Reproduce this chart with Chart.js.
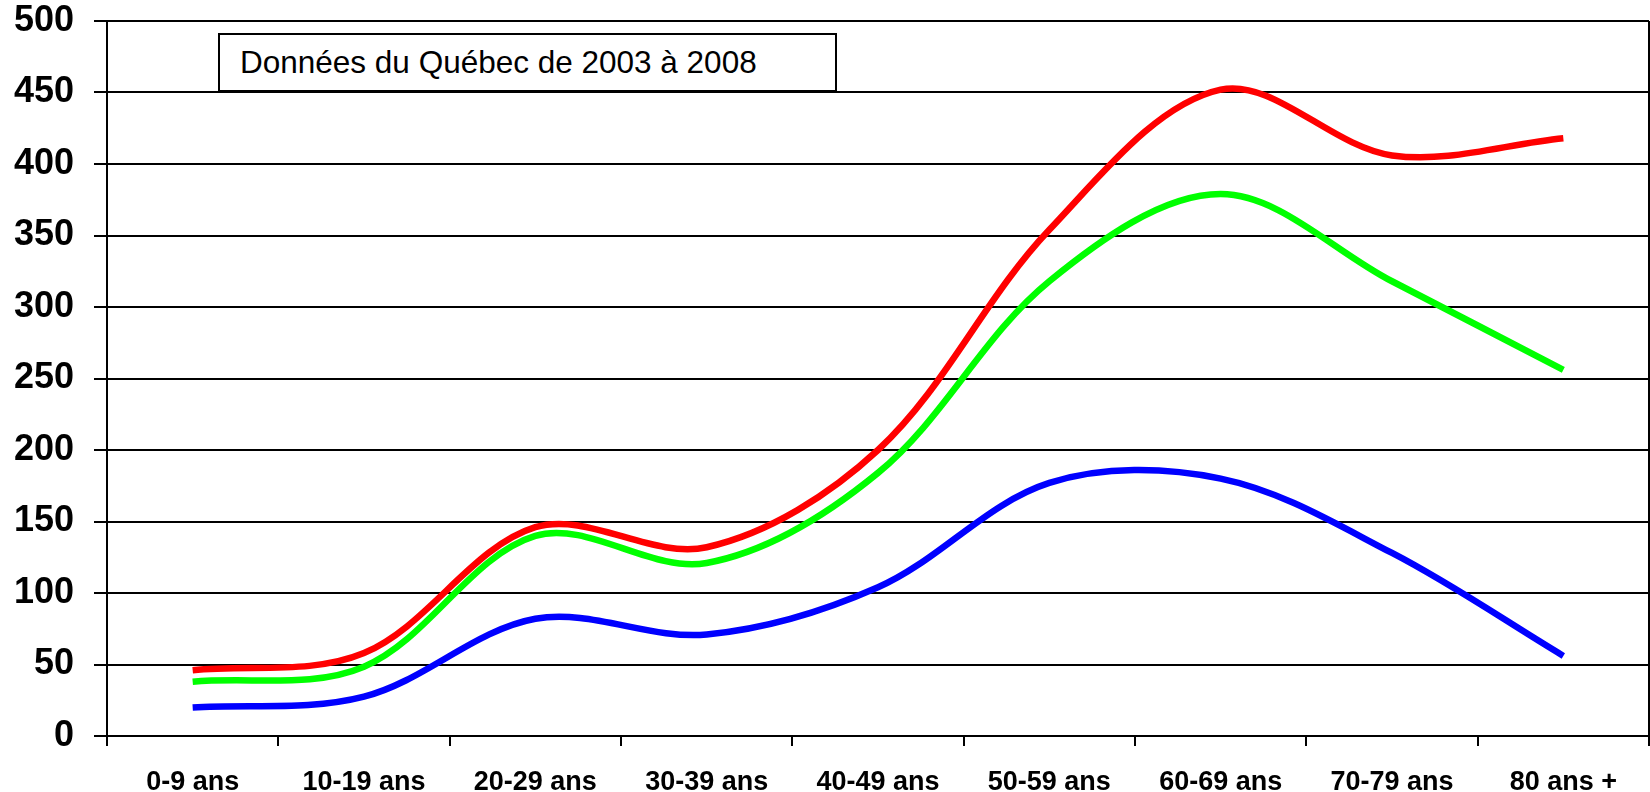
<!DOCTYPE html>
<html>
<head>
<meta charset="utf-8">
<script src="https://cdn.jsdelivr.net/npm/chart.js@4/dist/chart.umd.min.js"></script>
<style>
  html, body { margin: 0; padding: 0; background: #ffffff; }
  #wrap { position: relative; width: 1650px; height: 792px; }
  #c { display: block; }
  #note {
    position: absolute; left: 218px; top: 33px; width: 619px; height: 59px;
    box-sizing: border-box; border: 2px solid #000; background: #fff;
    font: 31.5px "Liberation Sans", Arial, sans-serif; color: #000;
    padding-left: 20px; line-height: 55px; white-space: nowrap;
  }
</style>
</head>
<body>
<div id="wrap">
  <canvas id="c" width="1650" height="792"></canvas>
  <div id="note">Données du Québec de 2003 à 2008</div>
</div>
<script>
// ---- data ----
const categories = ['0-9 ans', '10-19 ans', '20-29 ans', '30-39 ans', '40-49 ans',
                    '50-59 ans', '60-69 ans', '70-79 ans', '80 ans +'];
const redValues   = [46, 58, 146, 132, 200, 354, 452, 406, 418];
const greenValues = [38, 48.5, 140, 121, 184, 318, 379, 318, 256];
const blueValues  = [20, 27.5, 82, 71, 104, 177, 180, 128, 56];
const yMin = 0, yMax = 500, yStep = 50;

// ---- chart ----
const rightBorder = {
  id: 'rightBorder',
  afterDraw(chart) {
    const { ctx, chartArea } = chart;
    ctx.save();
    ctx.strokeStyle = '#000';
    ctx.lineWidth = 2;
    ctx.beginPath();
    ctx.moveTo(chartArea.right, chartArea.top);
    ctx.lineTo(chartArea.right, chartArea.bottom);
    ctx.stroke();
    ctx.restore();
  }
};

const lineStyle = { borderWidth: 6.5, pointRadius: 0, pointHoverRadius: 0, tension: 0.34, fill: false };

new Chart(document.getElementById('c'), {
  type: 'line',
  data: {
    labels: categories,
    datasets: [
      Object.assign({ label: 'Série 3', data: blueValues,  borderColor: '#0000FF' }, lineStyle),
      Object.assign({ label: 'Série 2', data: greenValues, borderColor: '#00FF00' }, lineStyle),
      Object.assign({ label: 'Série 1', data: redValues,   borderColor: '#FF0000' }, lineStyle)
    ]
  },
  options: {
    responsive: false,
    animation: false,
    devicePixelRatio: 1,
    layout: { padding: { left: 0, right: 1, top: 21, bottom: 0 } },
    plugins: { legend: { display: false }, tooltip: { enabled: false }, title: { display: false } },
    scales: {
      x: {
        type: 'category',
        offset: true,
        grid: { display: true, drawOnChartArea: false, drawTicks: true, tickLength: 10,
                offset: true, color: '#000', lineWidth: 2 },
        border: { display: true, color: '#000', width: 2 },
        ticks: { color: '#000', padding: 20, maxRotation: 0, autoSkip: false,
                 font: { family: '"Liberation Sans", Arial, sans-serif', size: 27, weight: 'bold' } },
        afterFit(s) { s.height = 56; s.paddingLeft = 0; s.paddingRight = 0; }
      },
      y: {
        min: yMin, max: yMax,
        grid: { color: '#000', lineWidth: 2, drawTicks: true, tickLength: 13, tickColor: '#000' },
        border: { display: true, color: '#000', width: 2 },
        ticks: { stepSize: yStep, color: '#000', padding: 20,
                 font: { family: '"Liberation Sans", Arial, sans-serif', size: 36, weight: 'bold' } },
        afterFit(s) { s.width = 107; s.paddingTop = 0; s.paddingBottom = 0; }
      }
    }
  },
  plugins: [rightBorder]
});
</script>
</body>
</html>
